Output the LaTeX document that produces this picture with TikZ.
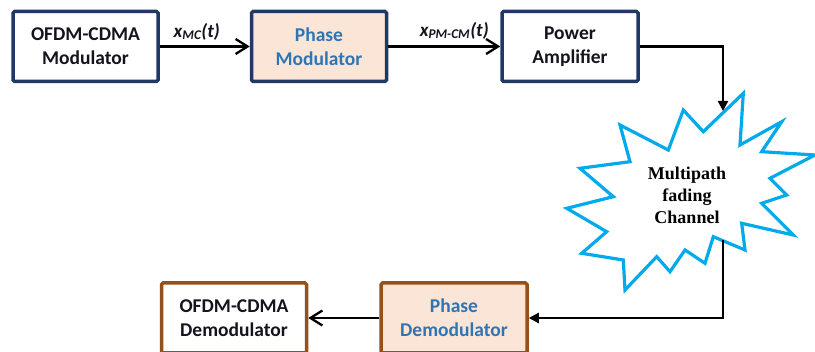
\documentclass[tikz,border=0pt]{standalone}
\usepackage{fontspec}
\setmainfont{Carlito}
\newfontfamily\chanfont{Liberation Serif}
\usepackage{tikz}
\usetikzlibrary{arrows.meta,positioning}

\definecolor{navyline}{RGB}{31,56,100}
\definecolor{brownline}{RGB}{150,80,25}
\definecolor{peach}{RGB}{251,229,214}
\definecolor{phaseblue}{RGB}{46,117,182}
\definecolor{burstblue}{RGB}{0,170,235}
\definecolor{darktext}{RGB}{20,20,30}

\begin{document}
\begin{tikzpicture}[
      x=1pt, y=-1pt,
      every node/.style={font=\fontsize{19.5}{24}\selectfont\bfseries},
      box/.style={
        draw=navyline, line width=3.5pt, rounded corners=1.5pt, align=center,
        minimum width=145pt, minimum height=70pt,
        fill=white, text=darktext
      },
      phase/.style={box, fill=peach, text=phaseblue},
      rxbox/.style={box, draw=brownline},
      sig/.style={font=\fontsize{19}{23}\selectfont\bfseries\itshape, text=darktext},
      arrow/.style={-{Straight Barb[length=12pt,width=15pt]}, line width=2.3pt},
      farrow/.style={-{Triangle[length=10pt,width=10pt]}, line width=2.3pt}
    ]
    \useasboundingbox (0,0) rectangle (815,352);

    % transmitter chain
    \node[box] (mod) at (85.5,46.5) {OFDM-CDMA\\Modulator};
    \node[phase, right=90pt of mod, minimum width=135pt] (pm) {Phase\\Modulator};
    \node[box, right=112pt of pm, minimum width=136pt] (pa) {Power\\Amplifier};

    % channel
    \draw[burstblue, line width=3.2pt, line join=miter, fill=white]
      (743.3,93.3) -- (740,145) -- (781.7,121.7) -- (761.7,151.7) -- (815,155)
      -- (770,178.3) -- (786.7,195) -- (761.7,203.3) -- (793.3,235) -- (741.7,223.3)
      -- (745,250) -- (713.3,236.7) -- (705,263.3) -- (685,250) -- (670,271.7)
      -- (656.7,256.7) -- (625,290) -- (623.3,260) -- (581.7,253.3) -- (606.7,231.7)
      -- (566.7,208.3) -- (613.3,196.7) -- (580,168.3) -- (630,161.7) -- (620,125)
      -- (668.3,150) -- (683.3,110) -- (703.3,131.7) -- cycle;
    \node[font=\fontsize{18}{22}\selectfont\chanfont\bfseries, align=center] (chan) at (687,195)
      {Multipath\\fading\\Channel};
    \coordinate (chin) at (723,111);
    \coordinate (chout) at (723,240);

    % receiver chain
    \node[rxbox, phase, draw=brownline, minimum width=146pt] (pd) at (454,318) {Phase\\Demodulator};
    \node[rxbox, left=71pt of pd] (demod) {OFDM-CDMA\\Demodulator};

    \draw[arrow] (mod) -- (pm) node[sig, midway, above, xshift=-8pt, yshift=2pt] {x\textsubscript{MC}(t)};
    \draw[arrow] (pm)  -- (pa) node[sig, midway, above, xshift=10pt, yshift=3pt] {x\textsubscript{PM-CM}(t)};
    \draw[farrow] (pa.east) -| (chin);
    \draw[farrow] (chout) |- (pd.east);
    \draw[arrow] (pd) -- (demod);
  \end{tikzpicture}
\end{document}
